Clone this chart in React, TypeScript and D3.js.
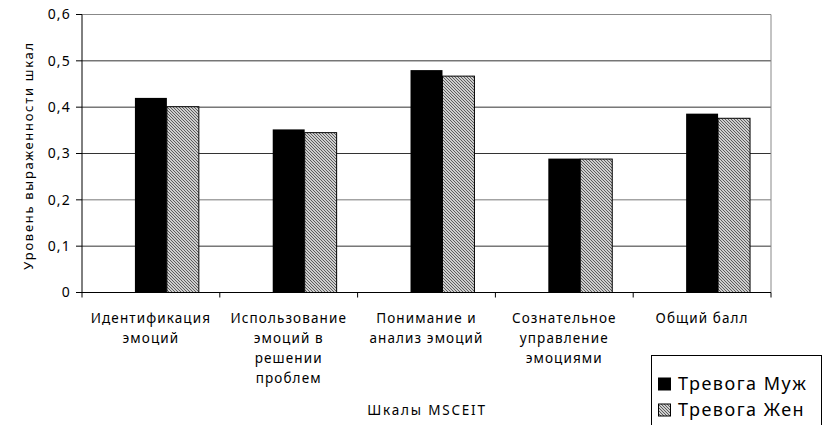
import React from "react";
import * as d3 from "d3";

const categories: string[][] = [
  ["Идентификация", "эмоций"],
  ["Использование", "эмоций в", "решении", "проблем"],
  ["Понимание и", "анализ эмоций"],
  ["Сознательное", "управление", "эмоциями"],
  ["Общий балл"],
];
const seriesNames = ["", "Тревога Муж", "Тревога Жен"];
const valuesMale = [0.42, 0.352, 0.48, 0.289, 0.386];
const valuesFemale = [0.401, 0.345, 0.467, 0.288, 0.376];
const yTicks = [0, 0.1, 0.2, 0.3, 0.4, 0.5, 0.6];
const yTickLabels = ["0", "0,1", "0,2", "0,3", "0,4", "0,5", "0,6"];
const yTitle = "Уровень выраженности шкал";
const xTitle = "Шкалы MSCEIT";

const W = 827;
const H = 425;
const m = { left: 82, right: 771, top: 14.5, bottom: 292.5 };
const font = "'Noto Sans', 'Open Sans', sans-serif";

export default function App() {
  const idx = categories.map((_, i) => String(i));
  const x0 = d3.scaleBand<string>().domain(idx).range([m.left, m.right]).padding(0);
  const x1 = d3
    .scaleBand<string>()
    .domain(seriesNames)
    .range([0, x0.bandwidth()])
    .paddingInner(0)
    .paddingOuter(0.656);
  const y = d3.scaleLinear().domain([0, 0.6]).range([m.bottom, m.top]);

  const series = [
    { name: seriesNames[1], values: valuesMale, fill: "#000", stroke: "none" },
    { name: seriesNames[2], values: valuesFemale, fill: "url(#hatch)", stroke: "#000" },
  ];

  return (
    <svg
      width={W}
      height={H}
      style={{ position: "absolute", left: 0, top: 0, background: "#fff" }}
      fontFamily={font}
    >
      <defs>
        <pattern id="hatch" patternUnits="userSpaceOnUse" width="3" height="3">
          <rect width="3" height="3" fill="#fff" />
          <path d="M-1,-1 L4,4 M-1,2 L1,4 M2,-1 L4,1" stroke="#555" strokeWidth="1.1" />
        </pattern>
      </defs>
      <rect x={0} y={0} width={W} height={H} fill="#fff" />
      {yTicks.slice(1).map((t, i) => (
        <line
          key={i}
          x1={m.left}
          x2={m.right}
          y1={y(t)}
          y2={y(t)}
          stroke={t === 0.6 ? "#888" : t === 0.2 ? "#777" : "#333"}
          strokeWidth={1}
        />
      ))}
      <line x1={m.right} x2={m.right} y1={m.top} y2={m.bottom} stroke="#888" strokeWidth={1} />
      {series.map((s) =>
        s.values.map((v, i) => (
          <rect
            key={s.name + i}
            x={(x0(String(i)) as number) + (x1(s.name) as number)}
            y={y(v)}
            width={x1.bandwidth()}
            height={y(0) - y(v)}
            fill={s.fill}
            stroke={s.stroke}
            strokeWidth={1}
          />
        ))
      )}
      <line x1={m.left} x2={m.left} y1={m.top} y2={m.bottom} stroke="#000" />
      <line x1={m.left} x2={m.right} y1={m.bottom} y2={m.bottom} stroke="#000" />
      {yTicks.map((t, i) => (
        <g key={i}>
          <line x1={m.left - 6} x2={m.left} y1={y(t)} y2={y(t)} stroke="#000" />
          <text x={71} y={y(t)} dy="0.35em" textAnchor="end" fontSize={14} letterSpacing={1.2} fill="#000">
            {yTickLabels[i]}
          </text>
        </g>
      ))}
      {idx.map((k) => (
        <line
          key={"xt" + k}
          x1={x0(k)}
          x2={x0(k)}
          y1={m.bottom}
          y2={m.bottom + 5}
          stroke="#000"
        />
      ))}
      <line x1={m.right} x2={m.right} y1={m.bottom} y2={m.bottom + 5} stroke="#000" />
      {categories.map((lines, i) => (
        <text
          key={"c" + i}
          textAnchor="middle"
          fontSize={13.5}
          letterSpacing={1.1}
          fill="#000"
        >
          {lines.map((l, j) => (
            <tspan key={j} x={(x0(String(i)) as number) + x0.bandwidth() / 2} y={318 + j * 20} dy="0.35em">
              {l}
            </tspan>
          ))}
        </text>
      ))}
      <text
        x={427}
        y={410}
        dy="0.35em"
        textAnchor="middle"
        fontSize={13.5}
        letterSpacing={1.8}
        fill="#000"
      >
        {xTitle}
      </text>
      <text
        transform={`translate(28, ${(m.top + m.bottom) / 2 + 2}) rotate(-90)`}
        textAnchor="middle"
        dy="0.35em"
        fontSize={13}
        letterSpacing={1.7}
        fill="#000"
      >
        {yTitle}
      </text>
      <rect x={651.5} y={355.5} width={170} height={80} fill="#fff" stroke="#000" />
      {series.map((s, i) => (
        <g key={"lg" + i} transform={`translate(658, ${384 + i * 26})`}>
          <rect x={0.5} y={-6} width={12} height={12} fill={s.fill} stroke="#000" />
          <text x={20} y={0} dy="0.35em" fontSize={18} letterSpacing={1.5} fill="#000">
            {s.name}
          </text>
        </g>
      ))}
    </svg>
  );
}
